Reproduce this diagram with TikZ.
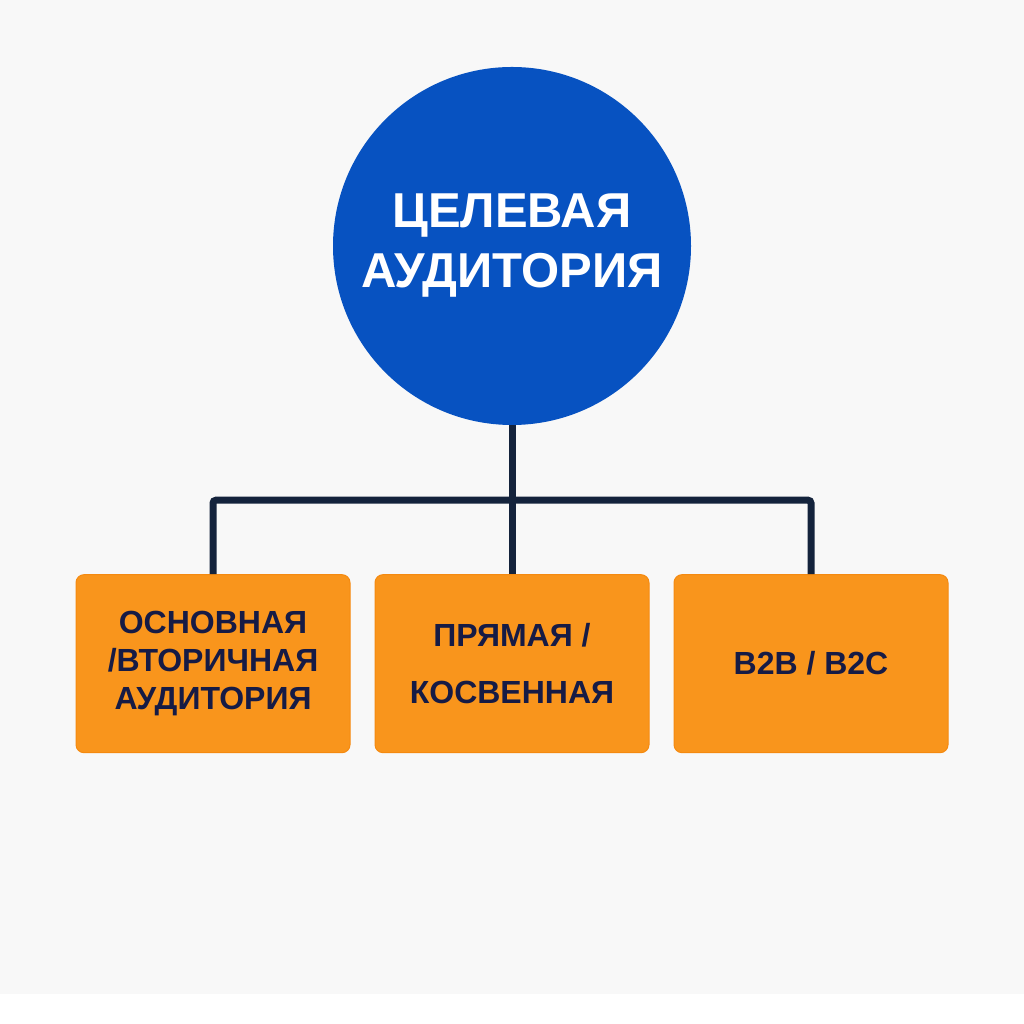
\documentclass[tikz,border=0pt]{standalone}
\usepackage{fontspec}
\setmainfont{Liberation Sans}
\usetikzlibrary{positioning}

\definecolor{pagegray}{HTML}{F8F8F8}
\definecolor{rootblue}{HTML}{0752C1}
\definecolor{boxorange}{HTML}{F9951C}
\definecolor{boxedge}{HTML}{F58A10}
\definecolor{wirenavy}{HTML}{14233C}
\definecolor{textnavy}{HTML}{161B45}

\tikzset{
  root/.style={circle, fill=rootblue, minimum size=358pt, inner sep=0pt,
    text=white, align=center, font=\fontsize{49}{60}\selectfont\bfseries},
  group/.style={rectangle, rounded corners=8pt, fill=boxorange, draw=boxedge,
    line width=1pt, minimum width=274pt, minimum height=178pt, inner sep=0pt,
    text=textnavy, align=center, font=\fontsize{32}{38}\selectfont\bfseries},
  wire/.style={draw=wirenavy, line width=7pt, rounded corners=3pt}
}

\begin{document}
\begin{tikzpicture}[x=1pt,y=1pt]
\useasboundingbox (0,0) rectangle (1024,1024);
\fill[white] (0,0) rectangle (1024,1024);
\fill[pagegray] (0,30) rectangle (1024,1024);

\node[root] (ta) at (512,778) {ЦЕЛЕВАЯ\\АУДИТОРИЯ};
\coordinate[below=75pt of ta] (bus);

\node[group] (pd) [below=149pt of ta] {ПРЯМАЯ /\\[19pt]КОСВЕННАЯ};
\node[group] (ps) [left=24pt of pd] {ОСНОВНАЯ\\/ВТОРИЧНАЯ\\АУДИТОРИЯ};
\node[group] (bb) [right=24pt of pd] {B2B / B2C};

\draw[wire] (ta) -- (bus);
\draw[wire] (ps) |- (bus) -| (bb);
\draw[wire] (bus) -- (pd);
\end{tikzpicture}
\end{document}
